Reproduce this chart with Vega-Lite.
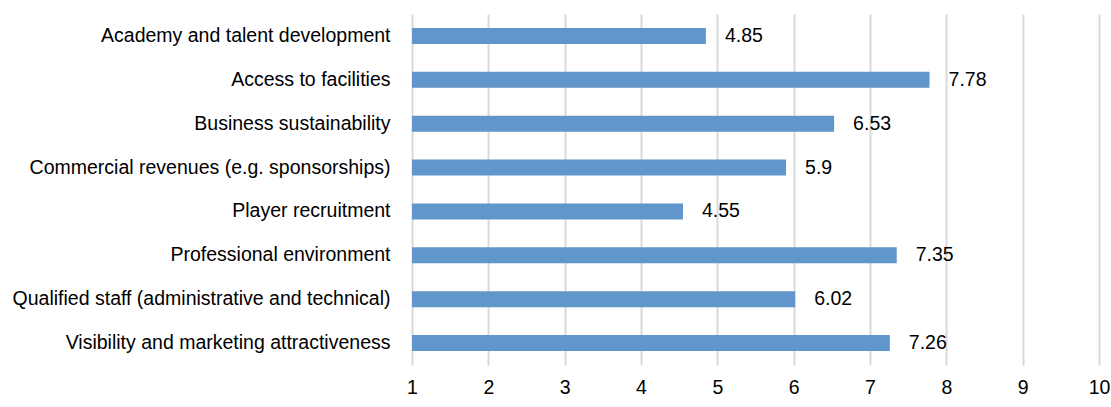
{
  "$schema": "https://vega.github.io/schema/vega-lite/v6.json",
  "width": 687,
  "height": 351,
  "autosize": "none",
  "padding": {"left": 412, "top": 14, "right": 12, "bottom": 42},
  "background": "white",
  "data": {"values": [
    {"category": "Academy and talent development", "value": 4.85},
    {"category": "Access to facilities", "value": 7.78},
    {"category": "Business sustainability", "value": 6.53},
    {"category": "Commercial revenues (e.g. sponsorships)", "value": 5.9},
    {"category": "Player recruitment", "value": 4.55},
    {"category": "Professional environment\u00a0", "value": 7.35},
    {"category": "Qualified staff (administrative and technical)", "value": 6.02},
    {"category": "Visibility and marketing attractiveness", "value": 7.26}
  ]},
  "config": {
    "view": {"stroke": null},
    "font": "Liberation Sans"
  },
  "encoding": {
    "y": {
      "field": "category", "type": "nominal", "sort": null,
      "scale": {"paddingInner": 0.635, "paddingOuter": 0.3175},
      "axis": {"title": null, "domain": false, "ticks": false, "labelPadding": 22, "labelFontSize": 19.5, "labelColor": "#000000", "labelFont": "Liberation Sans", "labelLimit": 420}
    },
    "x": {
      "field": "value", "type": "quantitative",
      "scale": {"domain": [1, 10], "nice": false, "zero": false},
      "axis": {"title": null, "domain": false, "ticks": false, "values": [1,2,3,4,5,6,7,8,9,10], "labelPadding": 13, "labelFontSize": 19.5, "labelColor": "#000000", "labelFont": "Liberation Sans", "gridColor": "#D9D9D9", "gridWidth": 2, "labelFlush": false}
    }
  },
  "layer": [
    {"mark": {"type": "bar", "color": "#6096C9"}, "encoding": {"x2": {"datum": 1}}},
    {"mark": {"type": "text", "align": "left", "baseline": "middle", "dx": 19, "fontSize": 19.5, "color": "#000000", "font": "Liberation Sans"}, "encoding": {"text": {"field": "value", "type": "quantitative"}}}
  ]
}
